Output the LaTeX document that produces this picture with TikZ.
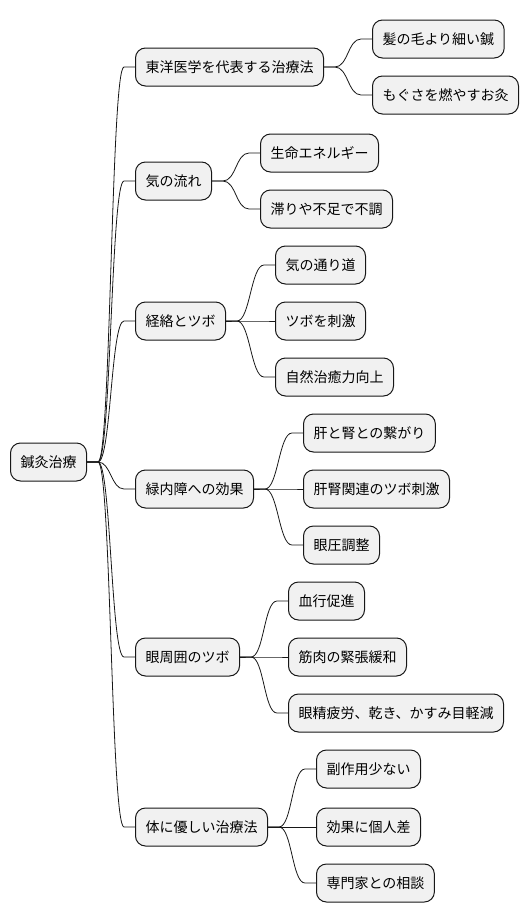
\documentclass[tikz,border=0pt]{standalone}
\usepackage{fontspec}
\newfontfamily\jpfont{Noto Sans CJK JP}
\newcommand{\branch}[2]{\draw[edge] (#1.east) -- ++(11,0) .. controls +(13,0) and +(-13,0) .. ([xshift=-11pt]#2.west) -- (#2.west);}
\begin{document}
\begin{tikzpicture}[x=1pt,y=-1pt,
    box/.style={draw=black!91, line width=1pt, fill=black!5.5, rounded corners=10pt,
      minimum height=38pt, inner xsep=10pt, anchor=west,
      font=\jpfont\fontsize{14}{16}\selectfont},
    edge/.style={line width=0.8pt, black!91}]
    \useasboundingbox (0,0) rectangle (530,921);
    % root
    \node[box] (Root) at (10,462) {鍼灸治療};
    % first level
    \node[box] (Toyo)    at (135,67)  {東洋医学を代表する治療法};
    \node[box] (KiFlow)  at (135,181) {気の流れ};
    \node[box] (Keiraku) at (135,321) {経絡とツボ};
    \node[box] (Ryokunai) at (135,489) {緑内障への効果};
    \node[box] (Shui)    at (135,657) {眼周囲のツボ};
    \node[box] (Yasashii) at (135,827) {体に優しい治療法};
    % second level
    \node[box] (Hari)    at (372,39)  {髪の毛より細い鍼};
    \node[box] (Kyu)     at (372,95)  {もぐさを燃やすお灸};
    \node[box] (Seimei)  at (260,153) {生命エネルギー};
    \node[box] (Todokori) at (260,209) {滞りや不足で不調};
    \node[box] (Michi)   at (275,265) {気の通り道};
    \node[box] (Shigeki) at (275,321) {ツボを刺激};
    \node[box] (Chiyu)   at (275,377) {自然治癒力向上};
    \node[box] (KanJin)  at (303,433) {肝と腎との繋がり};
    \node[box] (Kanren)  at (303,489) {肝腎関連のツボ刺激};
    \node[box] (Gan)     at (303,545) {眼圧調整};
    \node[box] (Kekko)   at (288,601) {血行促進};
    \node[box] (Kinniku) at (288,657) {筋肉の緊張緩和};
    \node[box] (Gansei)  at (288,713) {眼精疲労、乾き、かすみ目軽減};
    \node[box] (Fuku)    at (316,769) {副作用少ない};
    \node[box] (Kojin)   at (316,827) {効果に個人差};
    \node[box] (Senmon)  at (316,883) {専門家との相談};
    % connectors
    \branch{Root}{Toyo}
    \branch{Root}{KiFlow}
    \branch{Root}{Keiraku}
    \branch{Root}{Ryokunai}
    \branch{Root}{Shui}
    \branch{Root}{Yasashii}
    \branch{Toyo}{Hari}
    \branch{Toyo}{Kyu}
    \branch{KiFlow}{Seimei}
    \branch{KiFlow}{Todokori}
    \branch{Keiraku}{Michi}
    \branch{Keiraku}{Shigeki}
    \branch{Keiraku}{Chiyu}
    \branch{Ryokunai}{KanJin}
    \branch{Ryokunai}{Kanren}
    \branch{Ryokunai}{Gan}
    \branch{Shui}{Kekko}
    \branch{Shui}{Kinniku}
    \branch{Shui}{Gansei}
    \branch{Yasashii}{Fuku}
    \branch{Yasashii}{Kojin}
    \branch{Yasashii}{Senmon}
\end{tikzpicture}
\end{document}
